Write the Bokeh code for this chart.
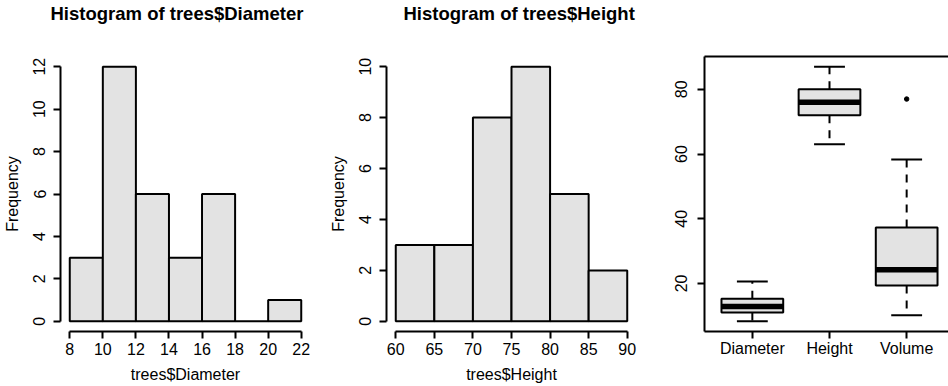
from bokeh.plotting import figure
from bokeh.layouts import row
from bokeh.models import Range1d, FixedTicker, LinearAxis, Title
from bokeh.embed import file_html
from bokeh.resources import INLINE

# ---------------- data ----------------
diameter_edges = [8, 10, 12, 14, 16, 18, 20, 22]
diameter_counts = [3, 12, 6, 3, 6, 0, 1]
height_edges = [60, 65, 70, 75, 80, 85, 90]
height_counts = [3, 3, 8, 10, 5, 2]

box_names = ["Diameter", "Height", "Volume"]
box_low = [8.3, 63.0, 10.2]
box_q1 = [11.05, 72.0, 19.4]
box_median = [12.9, 76.0, 24.2]
box_q3 = [15.25, 80.0, 37.3]
box_high = [20.6, 87.0, 58.3]
outlier_group = [3]
outlier_value = [77.0]

diameter_yticks = [0, 2, 4, 6, 8, 10, 12]
height_yticks = [0, 2, 4, 6, 8, 10]
box_yticks = [20, 40, 60, 80]

# ---------------- style ----------------
FONT = "Liberation Sans"
FILL = "#E3E3E3"
LW = 2


def padded(lo, hi, frac=0.04):
    d = (hi - lo) * frac
    return Range1d(lo - d, hi + d)


def style_axis(ax, label_size="16px"):
    ax.axis_line_width = LW
    ax.axis_line_color = "black"
    ax.major_tick_line_width = LW
    ax.major_tick_line_color = "black"
    ax.major_tick_in = 0
    ax.major_tick_out = 7
    ax.minor_tick_line_color = None
    ax.major_label_text_font = FONT
    ax.major_label_text_font_size = label_size
    ax.major_label_text_color = "black"
    ax.axis_label_text_font = FONT
    ax.axis_label_text_font_size = "16px"
    ax.axis_label_text_font_style = "normal"
    ax.axis_label_text_color = "black"


def style_title(p, text, offset):
    # spacer between the frame and the title (title itself is the outermost panel)
    p.add_layout(Title(text=" ", text_font_size="1px", standoff=30), "above")
    p.title.text = text
    p.title.align = "left"
    p.title.text_font = FONT
    p.title.text_font_size = "18.5px"
    p.title.text_font_style = "bold"
    p.title.text_color = "black"
    p.title.standoff = 0
    p.title.offset = offset


def hist_fig(edges, counts, yticks, title, xlabel, width, left, right, offset):
    p = figure(width=width, height=386, output_backend="svg", toolbar_location=None,
               x_range=padded(edges[0], edges[-1]),
               y_range=padded(0, max(counts)),
               min_border_left=left, min_border_right=right,
               min_border_top=55, min_border_bottom=55)
    p.outline_line_color = None
    p.grid.visible = False
    p.quad(left=edges[:-1], right=edges[1:], bottom=0, top=counts,
           fill_color=FILL, line_color="black", line_width=LW)
    style_title(p, title, offset)
    xa = p.xaxis[0]
    ya = p.yaxis[0]
    style_axis(xa)
    style_axis(ya)
    xa.ticker = FixedTicker(ticks=edges)
    xa.bounds = (edges[0], edges[-1])
    xa.axis_label = xlabel
    xa.major_label_standoff = 4
    xa.axis_label_standoff = 8
    ya.ticker = FixedTicker(ticks=yticks)
    ya.bounds = (0, max(yticks))
    ya.axis_label = "Frequency"
    ya.major_label_orientation = "vertical"
    ya.major_label_standoff = 8
    ya.axis_label_standoff = 10
    return p


p1 = hist_fig(diameter_edges, diameter_counts, diameter_yticks,
              "Histogram of trees$Diameter", "trees$Diameter", 326, 60, 16, -10)
p2 = hist_fig(height_edges, height_counts, height_yticks,
              "Histogram of trees$Height", "trees$Height", 340, 60, 30, 17)

# ---------------- boxplot ----------------
pos = [1, 2, 3]
all_vals = box_low + box_high + outlier_value
ylo, yhi = min(all_vals), max(all_vals)
dx = 3.24 / 250.0  # data units per pixel for the R box region (0.38..3.62)
p3 = figure(width=282, height=386, output_backend="svg", toolbar_location=None,
            x_range=Range1d(0.38, 0.38 + 244 * dx),
            y_range=padded(ylo, yhi),
            min_border_left=38, min_border_right=0,
            min_border_top=55, min_border_bottom=55)
p3.outline_line_color = None
p3.grid.visible = False

half = 0.4
cap = 0.2
lefts = [x - half for x in pos]
rights = [x + half for x in pos]
p3.quad(left=lefts, right=rights, bottom=box_q1, top=box_q3,
        fill_color=FILL, line_color="black", line_width=LW)
p3.segment(x0=lefts, x1=rights, y0=box_median, y1=box_median,
           line_color="black", line_width=5.5, line_cap="butt")
p3.segment(x0=pos, x1=pos, y0=box_q3, y1=box_high,
           line_color="black", line_width=LW, line_dash="8 7")
p3.segment(x0=pos, x1=pos, y0=box_q1, y1=box_low,
           line_color="black", line_width=LW, line_dash="8 7")
p3.segment(x0=[x - cap for x in pos], x1=[x + cap for x in pos], y0=box_high, y1=box_high,
           line_color="black", line_width=LW)
p3.segment(x0=[x - cap for x in pos], x1=[x + cap for x in pos], y0=box_low, y1=box_low,
           line_color="black", line_width=LW)
p3.scatter(x=outlier_group, y=outlier_value, size=4.5, marker="circle",
           fill_color="black", line_color="black", line_width=1)

xa3 = p3.xaxis[0]
ya3 = p3.yaxis[0]
style_axis(xa3, "16px")
style_axis(ya3)
xa3.ticker = FixedTicker(ticks=pos)
xa3.major_label_overrides = {p: n for p, n in zip(pos, box_names)}
xa3.major_label_standoff = 1
ya3.ticker = FixedTicker(ticks=box_yticks)
ya3.major_label_orientation = "vertical"
ya3.major_label_standoff = 10

top = LinearAxis(ticker=FixedTicker(ticks=[]))
top.axis_line_width = LW
top.axis_line_color = "black"
top.major_tick_line_color = None
top.minor_tick_line_color = None
top.major_label_text_color = None
p3.add_layout(top, "above")

layout = row(p1, p2, p3)
open("out.html", "w").write(file_html(layout, INLINE))
